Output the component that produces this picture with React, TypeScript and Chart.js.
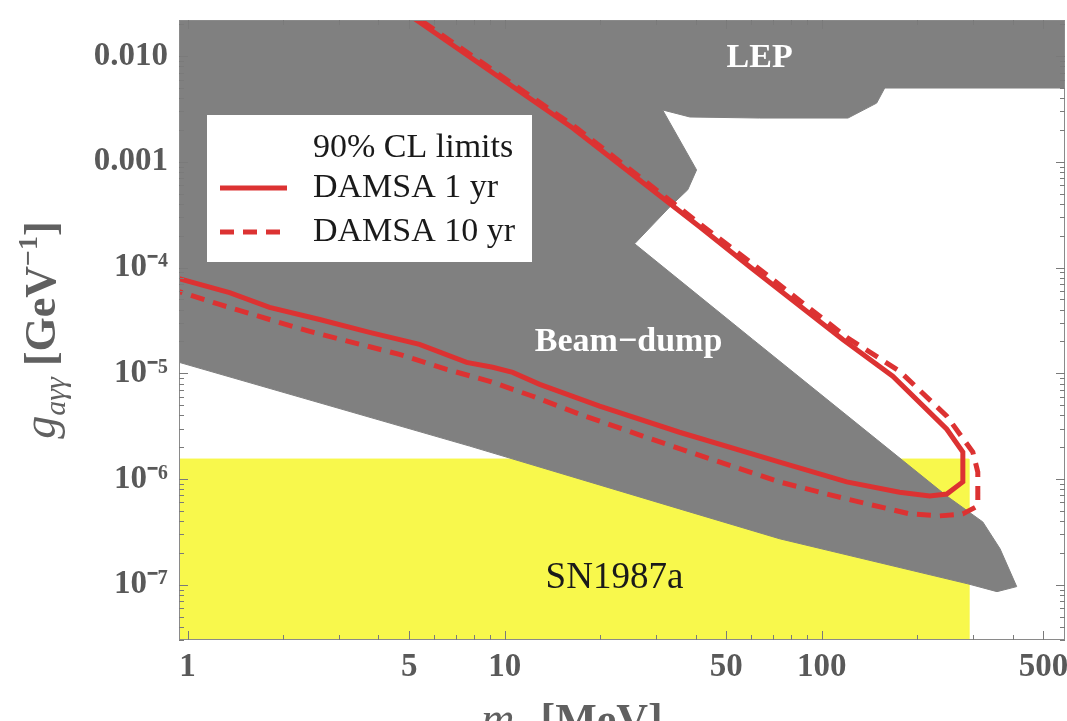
import React, { useEffect, useRef } from 'react';
import { Chart, registerables } from 'chart.js';

Chart.register(...registerables);

const SERIF = '"Liberation Serif", "Times New Roman", serif';
const RED = '#dc3232';
const GRAY = '#808080';
const YELLOW = '#f8f84c';
const AXIS_TEXT = '#595959';

// axis ticks
const xTickValues = [1, 5, 10, 50, 100, 500];
const xTickLabels = ['1', '5', '10', '50', '100', '500'];
const yTickValues = [1e-7, 1e-6, 1e-5, 1e-4, 1e-3, 1e-2];
const yTickLabels = ['10⁻⁷', '10⁻⁶', '10⁻⁵', '10⁻⁴', '0.001', '0.010'];

// DAMSA 1 yr (90% CL) : m_a [MeV], g_aγγ [GeV^-1]
const damsa1Mass = [4.665, 5.394, 16.39, 41.2, 59.3, 116.5, 167.5, 248, 278.6, 278.6, 248, 219, 176, 119.9, 73.7, 35.6, 19.94, 12.9, 10.6, 9.17, 7.59, 5.39, 3.75, 2.61, 1.814, 1.357, 0.94];
const damsa1Coupling = [0.0284, 0.02094, 2.094e-3, 2.44e-4, 1.02e-4, 2.09e-5, 9.4e-6, 2.96e-6, 1.8e-6, 9.4e-7, 7.2e-7, 6.9e-7, 7.5e-7, 9.4e-7, 1.445e-6, 2.77e-6, 4.89e-6, 7.87e-6, 1.02e-5, 1.14e-5, 1.27e-5, 1.88e-5, 2.44e-5, 3.23e-5, 4.2e-5, 5.81e-5, 7.87e-5];

// DAMSA 10 yr (90% CL)
const damsa10Mass = [4.8, 5.55, 16.87, 42.4, 61.0, 119.9, 176.2, 248, 299.5, 310.6, 310.6, 278.6, 235.6, 189.5, 119.9, 73.7, 38.3, 27.25, 17.25, 12.26, 8.97, 6.56, 4.66, 2.43, 1.814, 1.262, 0.94];
const damsa10Coupling = [0.0284, 0.02094, 2.094e-3, 2.44e-4, 1.067e-4, 2.19e-5, 1.045e-5, 3.93e-6, 1.8e-6, 1.164e-6, 5.56e-7, 4.68e-7, 4.48e-7, 4.68e-7, 6.47e-7, 9.37e-7, 1.8e-6, 2.55e-6, 4.1e-6, 6.07e-6, 8.41e-6, 1.09e-5, 1.51e-5, 2.49e-5, 3.23e-5, 4.48e-5, 5.94e-5];

// Excluded region: LEP + beam-dump (outline)
const excludedMass = [0.9, 700, 700, 158, 149, 121, 63.7, 38.4, 31.5, 40.3, 37.8, 33.2, 25.7, 60.6, 248, 322, 365, 412, 357, 288.8, 73.7, 35.65, 7.755, 0.9];
const excludedCoupling = [0.03, 0.03, 5.0e-3, 5.0e-3, 3.6e-3, 2.6e-3, 2.6e-3, 2.66e-3, 3.1e-3, 8.4e-4, 5.45e-4, 3.76e-4, 1.68e-4, 2.09e-5, 6.9e-7, 3.93e-7, 2.19e-7, 9.6e-8, 8.6e-8, 1.02e-7, 2.72e-7, 5.21e-7, 2.05e-6, 1.32e-5];

// SN1987a excluded region (outline)
const snMass = [0.9, 0.9, 291, 291];
const snCoupling = [1e-8, 1.545e-6, 1.545e-6, 1e-8];

// region labels
const regionLabelText = ['LEP', 'Beam−dump', 'SN1987a'];
const regionLabelMass = [63.7, 24.6, 22.2];
const regionLabelCoupling = [9.6e-3, 1.96e-5, 1.14e-7];

const legendHeader = '90% CL limits';

const zip = (xs: number[], ys: number[]) => xs.map((x, i) => ({ x, y: ys[i] }));

type Part = { t: string; font: string; dy?: number };
function drawParts(ctx: CanvasRenderingContext2D, parts: Part[], cx: number, baseline: number) {
  let total = 0;
  const widths = parts.map((p) => {
    ctx.font = p.font;
    const w = ctx.measureText(p.t).width;
    total += w;
    return w;
  });
  let x = cx - total / 2;
  ctx.textAlign = 'left';
  ctx.textBaseline = 'alphabetic';
  parts.forEach((p, i) => {
    ctx.font = p.font;
    ctx.fillText(p.t, x, baseline + (p.dy || 0));
    x += widths[i];
  });
}

const decorPlugin = {
  id: 'decor',
  afterDatasetsDraw(chart: any) {
    const { ctx, chartArea: a, scales } = chart;
    const xs = scales.x;
    const ys = scales.y;
    ctx.save();

    // region labels
    regionLabelText.forEach((t, i) => {
      const px = xs.getPixelForValue(regionLabelMass[i]);
      const py = ys.getPixelForValue(regionLabelCoupling[i]);
      ctx.fillStyle = i < 2 ? '#ffffff' : '#1a1a1a';
      ctx.font = i < 2 ? `bold 34px ${SERIF}` : `37px ${SERIF}`;
      ctx.textAlign = 'center';
      ctx.textBaseline = 'middle';
      ctx.fillText(t, px, py);
    });

    // frame
    ctx.strokeStyle = '#8a8a8a';
    ctx.lineWidth = 1;
    ctx.strokeRect(a.left + 0.5, a.top + 0.5, a.right - a.left - 1, a.bottom - a.top - 1);

    // inward ticks
    ctx.strokeStyle = '#7a7a7a';
    ctx.beginPath();
    for (let d = 1; d <= 100; d *= 10) {
      for (let m = 1; m <= 9; m++) {
        const v = m * d;
        if (v < xs.min || v > xs.max) continue;
        const major = xTickValues.indexOf(v) >= 0;
        const len = major ? 9 : 5;
        const px = Math.round(xs.getPixelForValue(v)) + 0.5;
        ctx.moveTo(px, a.bottom);
        ctx.lineTo(px, a.bottom - len);
        ctx.moveTo(px, a.top);
        ctx.lineTo(px, a.top + len);
      }
    }
    for (let e = -8; e <= -2; e++) {
      for (let m = 1; m <= 9; m++) {
        const v = m * Math.pow(10, e);
        if (v < ys.min || v > ys.max) continue;
        const len = m === 1 ? 9 : 5;
        const py = Math.round(ys.getPixelForValue(v)) + 0.5;
        ctx.moveTo(a.left, py);
        ctx.lineTo(a.left + len, py);
        ctx.moveTo(a.right, py);
        ctx.lineTo(a.right - len, py);
      }
    }
    ctx.stroke();

    // legend
    const lx = a.left + 28;
    const ly = a.top + 95;
    ctx.fillStyle = '#ffffff';
    ctx.fillRect(lx, ly, 325, 147);
    ctx.fillStyle = '#1a1a1a';
    ctx.font = `34px ${SERIF}`;
    ctx.textAlign = 'left';
    ctx.textBaseline = 'middle';
    ctx.fillText(legendHeader, lx + 106, ly + 33);
    const entries = chart.data.datasets.slice(0, 2);
    entries.forEach((ds: any, i: number) => {
      const rowY = ly + 73 + i * 44;
      ctx.strokeStyle = ds.borderColor;
      ctx.lineWidth = ds.borderWidth;
      ctx.setLineDash(ds.borderDash || []);
      ctx.beginPath();
      ctx.moveTo(lx + 13, rowY);
      ctx.lineTo(lx + 80, rowY);
      ctx.stroke();
      ctx.setLineDash([]);
      ctx.fillStyle = '#1a1a1a';
      ctx.fillText(ds.label, lx + 106, rowY);
    });

    // axis titles
    ctx.fillStyle = '#606060';
    drawParts(
      ctx,
      [
        { t: 'm', font: `italic 46px ${SERIF}` },
        { t: 'a', font: `italic 30px ${SERIF}`, dy: 9 },
        { t: ' [MeV]', font: `bold 44px ${SERIF}` },
      ],
      572,
      734
    );
    ctx.translate(44, 330);
    ctx.rotate(-Math.PI / 2);
    drawParts(
      ctx,
      [
        { t: 'g', font: `italic 46px ${SERIF}` },
        { t: 'aγγ', font: `italic 30px ${SERIF}`, dy: 10 },
        { t: ' [GeV', font: `bold 44px ${SERIF}` },
        { t: '−1', font: `bold 28px ${SERIF}`, dy: -18 },
        { t: ']', font: `bold 44px ${SERIF}` },
      ],
      0,
      11
    );
    ctx.restore();
  },
};

export default function App() {
  const ref = useRef<HTMLCanvasElement | null>(null);
  useEffect(() => {
    if (!ref.current) return;
    const chart = new Chart(ref.current, {
      type: 'scatter',
      data: {
        datasets: [
          {
            label: 'DAMSA 1 yr',
            data: zip(damsa1Mass, damsa1Coupling),
            showLine: true,
            borderColor: RED,
            borderWidth: 5,
            pointRadius: 0,
            fill: false,
            order: 0,
          },
          {
            label: 'DAMSA 10 yr',
            data: zip(damsa10Mass, damsa10Coupling),
            showLine: true,
            borderColor: RED,
            borderWidth: 5,
            borderDash: [14, 9],
            pointRadius: 0,
            fill: false,
            order: 1,
          },
          {
            label: 'LEP / Beam-dump',
            data: zip(excludedMass, excludedCoupling),
            showLine: true,
            borderColor: GRAY,
            backgroundColor: GRAY,
            borderWidth: 1,
            pointRadius: 0,
            fill: 'shape',
            order: 2,
          },
          {
            label: 'SN1987a',
            data: zip(snMass, snCoupling),
            showLine: true,
            borderColor: YELLOW,
            backgroundColor: YELLOW,
            borderWidth: 1,
            pointRadius: 0,
            fill: 'shape',
            order: 3,
          },
        ],
      } as any,
      options: {
        responsive: false,
        animation: false,
        events: [],
        layout: { padding: { left: 0, right: 2, top: 20, bottom: 0 } },
        plugins: { legend: { display: false }, tooltip: { enabled: false } },
        scales: {
          x: {
            type: 'logarithmic',
            min: 0.94,
            max: 585,
            grid: { display: false, drawTicks: false },
            border: { display: false },
            afterBuildTicks: (s: any) => {
              s.ticks = xTickValues.map((v) => ({ value: v }));
            },
            afterFit: (s: any) => {
              s.height = 81;
              s.paddingLeft = 0;
              s.paddingRight = 0;
            },
            ticks: {
              autoSkip: false,
              maxRotation: 0,
              padding: 8,
              color: AXIS_TEXT,
              font: { family: SERIF, weight: 'bold', size: 33 },
              callback: (v: any) => xTickLabels[xTickValues.indexOf(Number(v))] ?? '',
            },
          },
          y: {
            type: 'logarithmic',
            min: 3.1e-8,
            max: 0.022,
            grid: { display: false, drawTicks: false },
            border: { display: false },
            afterBuildTicks: (s: any) => {
              s.ticks = yTickValues.map((v) => ({ value: v }));
            },
            afterFit: (s: any) => {
              s.width = 179;
              s.paddingTop = 0;
              s.paddingBottom = 0;
            },
            ticks: {
              autoSkip: false,
              padding: 11,
              color: AXIS_TEXT,
              font: { family: SERIF, weight: 'bold', size: 33 },
              callback: (v: any) => yTickLabels[yTickValues.indexOf(Number(v))] ?? '',
            },
          },
        },
      } as any,
      plugins: [decorPlugin],
    });
    return () => chart.destroy();
  }, []);

  return (
    <div style={{ position: 'fixed', left: 0, top: 0, width: 1067, height: 721, overflow: 'hidden', background: '#fff' }}>
      <canvas ref={ref} width={1067} height={721} style={{ display: 'block', width: 1067, height: 721 }} />
    </div>
  );
}
